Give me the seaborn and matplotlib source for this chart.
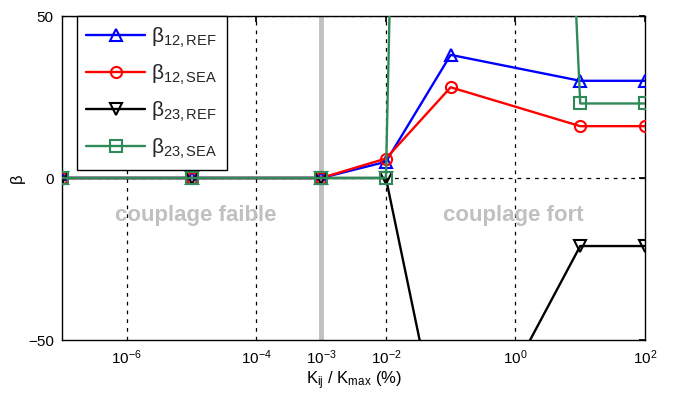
import numpy as np
import pandas as pd
import matplotlib
matplotlib.use("Agg")
import matplotlib.pyplot as plt
import seaborn as sns

# Data
k_ratio = [1e-7, 1e-5, 1e-3, 1e-2, 1e-1, 1e1, 1e2]
beta12_ref = [0, 0, 0, 5, 38, 30, 30]
beta12_sea = [0, 0, 0, 6, 28, 16, 16]
beta23_ref = [0, 0, 0, 0, -96, -21, -21]
beta23_sea = [0, 0, 0, 0, 900, 23, 23]
labels = [r'β$_{\rm 12,REF}$', r'β$_{\rm 12,SEA}$',
          r'β$_{\rm 23,REF}$', r'β$_{\rm 23,SEA}$']
xticks = [1e-6, 1e-4, 1e-3, 1e-2, 1e0, 1e2]
xticklabels = [r'$10^{-6}$', r'$10^{-4}$', r'$10^{-3}$', r'$10^{-2}$', r'$10^{0}$', r'$10^{2}$']
yticks = [-50, 0, 50]

sns.set_theme(style="white")
plt.rcParams['font.family'] = ['Liberation Sans', 'DejaVu Sans']
plt.rcParams['mathtext.fontset'] = 'custom'
plt.rcParams['mathtext.rm'] = 'Liberation Sans'
plt.rcParams['mathtext.it'] = 'Liberation Sans:italic'
plt.rcParams['mathtext.bf'] = 'Liberation Sans:bold'

fig = plt.figure(figsize=(6.75, 4.07), dpi=100)
ax = fig.add_axes([62/675, 1-340/407, (645-62)/675, (340-16)/407])

series = [beta12_ref, beta12_sea, beta23_ref, beta23_sea]
colors = ['#0000ff', '#ff0000', '#000000', '#2e8b57']
markers = ['^', 'o', 'v', 's']

ax.axvline(1e-3, color='#c0c0c0', lw=3.5, zorder=1)

for vals, lab, c, m in zip(series, labels, colors, markers):
    df = pd.DataFrame({'x': k_ratio, 'y': vals})
    sns.lineplot(data=df, x='x', y='y', ax=ax, color=c, marker=m, label=lab,
                 markersize=8, markerfacecolor='none', markeredgecolor=c,
                 markeredgewidth=1.5, lw=1.7, zorder=3)

ax.set_xscale('log')
ax.set_xlim(1e-7, 1e2)
ax.set_ylim(-50, 50)
ax.set_xticks(xticks)
ax.set_xticklabels(xticklabels)
ax.xaxis.set_minor_locator(matplotlib.ticker.NullLocator())
ax.set_yticks(yticks)
ax.tick_params(axis='both', direction='in', length=4, labelsize=11, colors='black',
               top=True, right=True, pad=6)

for xv in [1e-6, 1e-4, 1e-2, 1e0]:
    ax.axvline(xv, color='black', ls=(0, (3, 4)), lw=0.9, zorder=2)
ax.axhline(0, color='black', ls=(0, (3, 4)), lw=0.9, zorder=2)
ax.axhline(50, color='black', ls=(0, (3, 4)), lw=0.9, zorder=2)

for s in ax.spines.values():
    s.set_color('black')
    s.set_linewidth(1.0)

ax.text(10**-4.94, -11.5, 'couplage faible', color='#c0c0c0', fontsize=16,
        fontweight='bold', ha='center', va='center', zorder=2)
ax.text(10**-0.03, -11.5, 'couplage fort', color='#c0c0c0', fontsize=16,
        fontweight='bold', ha='center', va='center', zorder=2)

ax.set_xlabel(r'K$_{\rm ij}$ / K$_{\rm max}$ (%)', fontsize=12, color='black', labelpad=2)
ax.set_ylabel('β', fontsize=12, color='black', labelpad=2)

leg = ax.legend(loc='upper left', bbox_to_anchor=(15/583, 1.0), fontsize=15,
                frameon=True, fancybox=False, edgecolor='black', framealpha=1,
                handlelength=2.8, borderpad=0.45, labelspacing=0.62, handletextpad=0.3,
                borderaxespad=0)
leg.get_frame().set_linewidth(1.0)
leg.set_zorder(5)

fig.savefig('out.png', dpi=100, facecolor='white')
